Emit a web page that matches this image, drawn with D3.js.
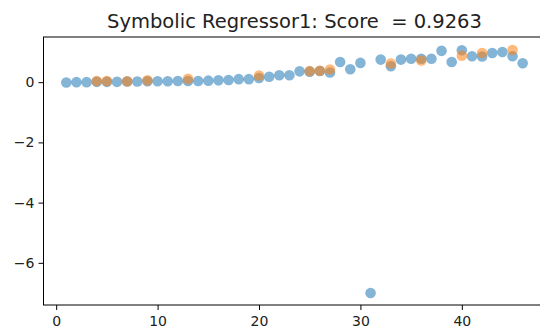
<!DOCTYPE html>
<html>
<head>
<meta charset="utf-8">
<script src="https://cdn.jsdelivr.net/npm/d3@7"></script>
<style>
  html, body { margin: 0; padding: 0; background: #fff; }
  svg { display: block; }
  text { font-family: "DejaVu Sans", sans-serif; }
</style>
</head>
<body>
<script>
// ---- data ----
const titleText = "Symbolic Regressor1: Score  = 0.9263";
const xTicks = [0, 10, 20, 30, 40];
const yTicks = [-6, -4, -2, 0];

// blue series: index 1..46
const blueX = [1,2,3,4,5,6,7,8,9,10,11,12,13,14,15,16,17,18,19,20,21,22,23,24,25,26,27,28,29,30,31,32,33,34,35,36,37,38,39,40,41,42,43,44,45,46];
const blueY = [-0.01,0.0,0.0,0.01,0.01,0.01,0.02,0.02,0.03,0.03,0.03,0.04,0.04,0.04,0.05,0.06,0.07,0.10,0.10,0.14,0.18,0.23,0.23,0.36,0.35,0.37,0.32,0.67,0.43,0.64,-7.0,0.75,0.53,0.75,0.78,0.78,0.78,1.04,0.67,1.06,0.86,0.85,0.97,1.0,0.86,0.63];

// orange series
const orangeX = [4,5,7,9,13,20,25,26,27,33,36,40,42,45];
const orangeY = [0.04,0.04,0.03,0.06,0.11,0.22,0.37,0.38,0.42,0.62,0.72,0.88,0.97,1.07];

// ---- layout ----
const W = 540, H = 334;
const mLeft = 43.5, mRight = 545.5, mTop = 37, mBottom = 305;

const svg = d3.select("body").append("svg")
  .attr("width", W).attr("height", H);

const x = d3.scaleLinear().domain([-1.25, 48.25]).range([mLeft, mRight]);
const y = d3.scaleLinear().domain([-7.40, 1.50]).range([mBottom, mTop]);

// points
const r = 5.3;
svg.append("g").selectAll("circle")
  .data(d3.zip(blueX, blueY))
  .join("circle")
  .attr("cx", d => x(d[0])).attr("cy", d => y(d[1]))
  .attr("r", r)
  .attr("fill", "#1f77b4").attr("fill-opacity", 0.55);

svg.append("g").selectAll("circle")
  .data(d3.zip(orangeX, orangeY))
  .join("circle")
  .attr("cx", d => x(d[0])).attr("cy", d => y(d[1]))
  .attr("r", r)
  .attr("fill", "#ff7f0e").attr("fill-opacity", 0.55);

// axes
const fmt = d3.format("");
const xAxis = d3.axisBottom(x).tickValues(xTicks).tickSize(5).tickPadding(4).tickFormat(d => fmt(d));
const yAxis = d3.axisLeft(y).tickValues(yTicks).tickSize(5).tickPadding(4).tickFormat(d => fmt(d));

const gx = svg.append("g").attr("transform", `translate(0,${mBottom})`).call(xAxis);
const gy = svg.append("g").attr("transform", `translate(${mLeft},0)`).call(yAxis);

[gx, gy].forEach(g => {
  g.select(".domain").remove();
  g.selectAll(".tick line").attr("stroke", "#000").attr("stroke-width", 1);
  g.selectAll(".tick text")
    .attr("fill", "#222")
    .style("font-family", "'DejaVu Sans', sans-serif")
    .style("font-size", "14px");
});
gx.selectAll(".tick text").attr("dy", "0.85em");

// spines
svg.append("rect")
  .attr("x", mLeft).attr("y", mTop)
  .attr("width", mRight - mLeft).attr("height", mBottom - mTop)
  .attr("fill", "none").attr("stroke", "#000").attr("stroke-width", 1);

// title
svg.append("text")
  .attr("x", (mLeft + mRight) / 2).attr("y", 28)
  .attr("text-anchor", "middle")
  .attr("fill", "#222")
  .attr("xml:space", "preserve")
  .style("white-space", "pre")
  .style("font-size", "19.5px")
  .text(titleText);
</script>
</body>
</html>
